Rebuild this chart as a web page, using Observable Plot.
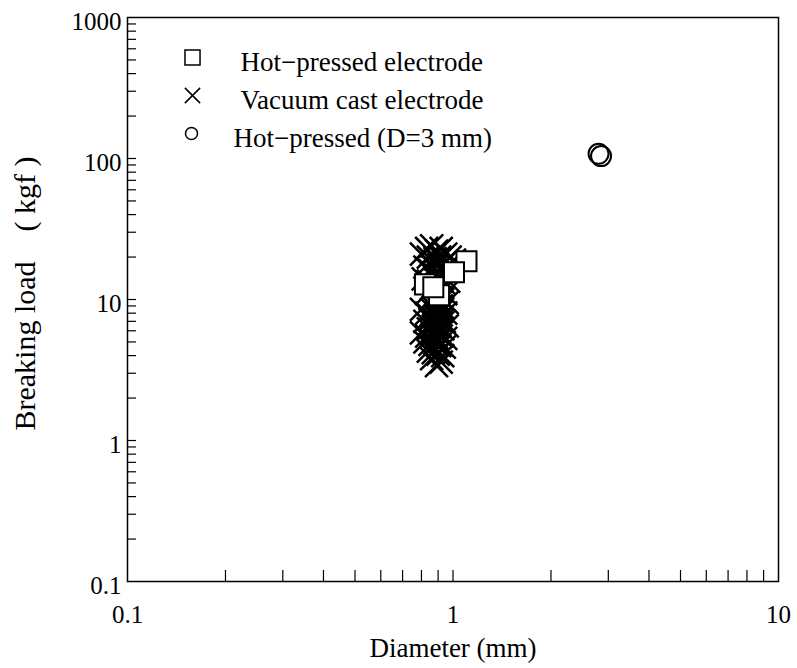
<!DOCTYPE html>
<html><head><meta charset="utf-8">
<script src="https://cdn.jsdelivr.net/npm/d3@7"></script>
<script src="https://cdn.jsdelivr.net/npm/@observablehq/plot@0.6"></script>
<style>body{margin:0;background:#fff;} #chart svg{font-family:"Liberation Serif",serif;}</style>
</head><body><div id="chart"></div>
<script>
// Vacuum cast electrode (diameter mm, breaking load kgf)
const vacuumD = [
  0.80,0.83,0.86,0.89,0.92,0.95,0.98,1.01,0.84,0.88,0.91,0.94,0.87,0.90,0.93,0.96,0.82,0.85,
  0.81,0.84,0.88,0.91,0.94,0.97,0.86,0.89,0.92,0.95,0.83,0.87,0.90,0.93,0.96,0.88,0.91,
  0.80,0.83,0.86,0.89,0.92,0.95,0.85,0.88,0.91,0.94,0.82,0.87,0.90,0.93,0.96,0.84,
  0.80,0.83,0.86,0.89,0.92,0.95,0.82,0.85,0.88,0.91,0.94,0.84,0.87,0.90,0.93,0.86,0.89,0.92,
  0.88,0.90,0.91,0.89,0.90,0.92,0.89,0.91,0.90,0.88,0.92,0.90,0.88,0.92,0.87,0.93];
const vacuumLoad = [
  21,23,24,22,23,21,20,19,20,19.5,20,18,17,17.5,16,17,17,16,
  14,13.5,14,14.5,13,13.5,12,12.5,11.5,11,11,10.5,10,10,9.5,9.2,9.5,
  8.5,8,8.5,8,8.2,8,7.2,7,7.3,7,7,6.5,6.4,6.2,6.5,6.2,
  5.8,5.5,5.6,5.4,5.5,5.3,5,4.8,4.9,4.7,4.6,4.3,4.2,4.1,4.0,3.8,3.4,3.6,
  15,13,12,11,9,9,7.5,8,6,6,7,5,10,14,8.8,8.6];
// Hot-pressed electrode
const hotD = [0.906,1.10,1.007,0.82,0.87];
const hotLoad = [10.7,18.7,15.6,12.8,12.2];
// Hot-pressed (D=3 mm)
const hot3D = [2.80,2.85];
const hot3Load = [108,104];

const xMajor = [0.1,1,10];
const yMajor = [0.1,1,10,100,1000];
const xMinor = [0.2,0.3,0.4,0.5,0.6,0.7,0.8,0.9,1,2,3,4,5,6,7,8,9];
const yMinor = [0.2,0.3,0.4,0.5,0.6,0.7,0.8,0.9,1,2,3,4,5,6,7,8,9,10,20,30,40,50,60,70,80,90,100,200,300,400,500,600,700,800,900];

const legendLabels = ["Hot\u2212pressed electrode","Vacuum cast electrode","Hot\u2212pressed (D=3 mm)"];
const xTitle = "Diameter (mm)";
const yTitle = "Breaking load\u2003( kgf )";

const vacuum = vacuumD.map((d,i)=>({d, load: vacuumLoad[i]}));
const hot = hotD.map((d,i)=>({d, load: hotLoad[i]}));
const hot3 = hot3D.map((d,i)=>({d, load: hot3Load[i]}));

const chart = Plot.plot({
  width: 797, height: 668,
  marginLeft: 127, marginRight: 19, marginTop: 17, marginBottom: 87,
  style: {fontFamily: "Liberation Serif, serif", fontSize: "25px", background: "white", color: "black"},
  x: {type: "log", domain: [0.1, 10]},
  y: {type: "log", domain: [0.1, 1000]},
  marks: [
    Plot.frame({stroke: "black", strokeWidth: 1.5}),
    Plot.axisX(xMinor, {tickSize: -11, text: null, label: null, strokeWidth: 1.2}),
    Plot.axisX(xMajor, {tickSize: 0, tickPadding: 24, tickFormat: d => String(d), label: null, fontSize: 25}),
    Plot.axisY(yMinor, {tickSize: -9, text: null, label: null, strokeWidth: 1.2}),
    Plot.axisY(yMajor, {tickSize: 0, tickPadding: 6, dy: 4, tickFormat: d => String(d), label: null, fontSize: 25}),
    Plot.text([xTitle], {frameAnchor: "bottom", lineAnchor: "middle", dy: 67, fontSize: 27}),
    Plot.text([yTitle], {frameAnchor: "left", textAnchor: "middle", lineAnchor: "middle", dx: -102, dy: -6, rotate: -90, fontSize: 30}),
    Plot.dot(vacuum, {x: "d", y: "load", symbol: "times", r: 10.5, stroke: "black", strokeWidth: 2.5}),
    Plot.dot(hot, {x: "d", y: "load", symbol: "square", r: 11.3, fill: "white", stroke: "black", strokeWidth: 2}),
    Plot.dot(hot3, {x: "d", y: "load", symbol: "circle", r: 10, fill: "none", stroke: "black", strokeWidth: 2}),
    // legend
    Plot.dot([legendLabels[0]], {frameAnchor: "top-left", dx: 65, dy: 40, symbol: "square", r: 8.5, stroke: "black", strokeWidth: 1.5}),
    Plot.dot([legendLabels[1]], {frameAnchor: "top-left", dx: 65, dy: 78, symbol: "times", r: 7, stroke: "black", strokeWidth: 1.5}),
    Plot.dot([legendLabels[2]], {frameAnchor: "top-left", dx: 64, dy: 116, symbol: "circle", r: 6, stroke: "black", strokeWidth: 1.5}),
    Plot.text([legendLabels[0]], {frameAnchor: "top-left", lineAnchor: "middle", dx: 113, dy: 45, textAnchor: "start", fontSize: 27}),
    Plot.text([legendLabels[1]], {frameAnchor: "top-left", lineAnchor: "middle", dx: 113, dy: 83, textAnchor: "start", fontSize: 27}),
    Plot.text([legendLabels[2]], {frameAnchor: "top-left", lineAnchor: "middle", dx: 106, dy: 121, textAnchor: "start", fontSize: 27})
  ]
});
document.getElementById("chart").appendChild(chart);
</script></body></html>
